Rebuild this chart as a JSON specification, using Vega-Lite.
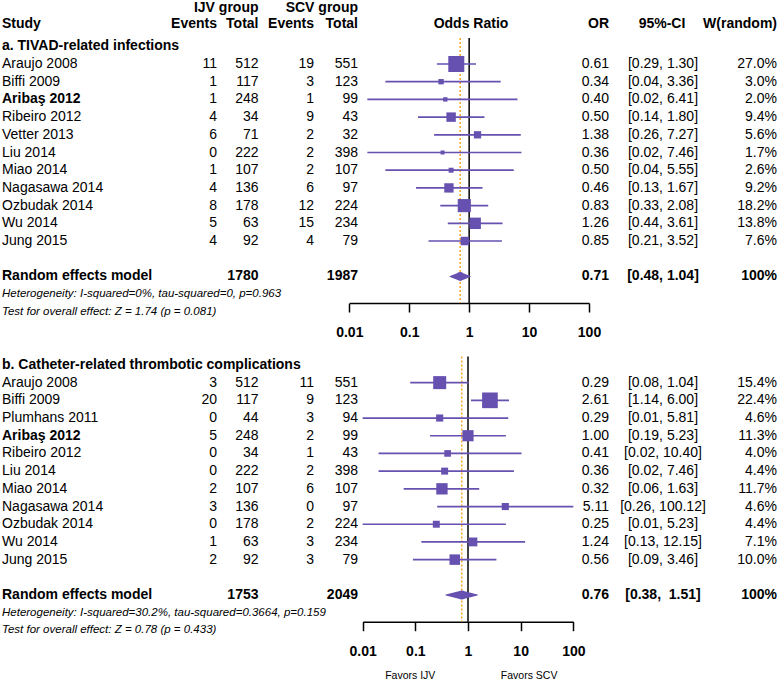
{
  "$schema": "https://vega.github.io/schema/vega-lite/v6.json",
  "width": 779,
  "height": 680,
  "padding": 0,
  "autosize": {"type": "none"},
  "background": "white",
  "config": {
    "view": {"stroke": null},
    "text": {"font": "Liberation Sans", "fontSize": 14, "baseline": "middle", "color": "black"}
  },
  "datasets": {
    "studies": [
      {"sec": "a", "row": 1, "study": "Araujo 2008", "bold": false, "e1": "11", "t1": "512", "e2": "19", "t2": "551", "or": 0.61, "lo": 0.29, "hi": 1.30, "w": 27.0, "ci": "[0.29, 1.30]", "wt": "27.0%"},
      {"sec": "a", "row": 2, "study": "Biffi 2009", "bold": false, "e1": "1", "t1": "117", "e2": "3", "t2": "123", "or": 0.34, "lo": 0.04, "hi": 3.36, "w": 3.0, "ci": "[0.04, 3.36]", "wt": "3.0%"},
      {"sec": "a", "row": 3, "study": "Aribaş 2012", "bold": true, "e1": "1", "t1": "248", "e2": "1", "t2": "99", "or": 0.40, "lo": 0.02, "hi": 6.41, "w": 2.0, "ci": "[0.02, 6.41]", "wt": "2.0%"},
      {"sec": "a", "row": 4, "study": "Ribeiro 2012", "bold": false, "e1": "4", "t1": "34", "e2": "9", "t2": "43", "or": 0.50, "lo": 0.14, "hi": 1.80, "w": 9.4, "ci": "[0.14, 1.80]", "wt": "9.4%"},
      {"sec": "a", "row": 5, "study": "Vetter 2013", "bold": false, "e1": "6", "t1": "71", "e2": "2", "t2": "32", "or": 1.38, "lo": 0.26, "hi": 7.27, "w": 5.6, "ci": "[0.26, 7.27]", "wt": "5.6%"},
      {"sec": "a", "row": 6, "study": "Liu 2014", "bold": false, "e1": "0", "t1": "222", "e2": "2", "t2": "398", "or": 0.36, "lo": 0.02, "hi": 7.46, "w": 1.7, "ci": "[0.02, 7.46]", "wt": "1.7%"},
      {"sec": "a", "row": 7, "study": "Miao 2014", "bold": false, "e1": "1", "t1": "107", "e2": "2", "t2": "107", "or": 0.50, "lo": 0.04, "hi": 5.55, "w": 2.6, "ci": "[0.04, 5.55]", "wt": "2.6%"},
      {"sec": "a", "row": 8, "study": "Nagasawa 2014", "bold": false, "e1": "4", "t1": "136", "e2": "6", "t2": "97", "or": 0.46, "lo": 0.13, "hi": 1.67, "w": 9.2, "ci": "[0.13, 1.67]", "wt": "9.2%"},
      {"sec": "a", "row": 9, "study": "Ozbudak 2014", "bold": false, "e1": "8", "t1": "178", "e2": "12", "t2": "224", "or": 0.83, "lo": 0.33, "hi": 2.08, "w": 18.2, "ci": "[0.33, 2.08]", "wt": "18.2%"},
      {"sec": "a", "row": 10, "study": "Wu 2014", "bold": false, "e1": "5", "t1": "63", "e2": "15", "t2": "234", "or": 1.26, "lo": 0.44, "hi": 3.61, "w": 13.8, "ci": "[0.44, 3.61]", "wt": "13.8%"},
      {"sec": "a", "row": 11, "study": "Jung 2015", "bold": false, "e1": "4", "t1": "92", "e2": "4", "t2": "79", "or": 0.85, "lo": 0.21, "hi": 3.52, "w": 7.6, "ci": "[0.21, 3.52]", "wt": "7.6%"},
      {"sec": "b", "row": 19, "study": "Araujo 2008", "bold": false, "e1": "3", "t1": "512", "e2": "11", "t2": "551", "or": 0.29, "lo": 0.08, "hi": 1.04, "w": 15.4, "ci": "[0.08, 1.04]", "wt": "15.4%"},
      {"sec": "b", "row": 20, "study": "Biffi 2009", "bold": false, "e1": "20", "t1": "117", "e2": "9", "t2": "123", "or": 2.61, "lo": 1.14, "hi": 6.00, "w": 22.4, "ci": "[1.14, 6.00]", "wt": "22.4%"},
      {"sec": "b", "row": 21, "study": "Plumhans 2011", "bold": false, "e1": "0", "t1": "44", "e2": "3", "t2": "94", "or": 0.29, "lo": 0.01, "hi": 5.81, "w": 4.6, "ci": "[0.01, 5.81]", "wt": "4.6%"},
      {"sec": "b", "row": 22, "study": "Aribaş 2012", "bold": true, "e1": "5", "t1": "248", "e2": "2", "t2": "99", "or": 1.00, "lo": 0.19, "hi": 5.23, "w": 11.3, "ci": "[0.19, 5.23]", "wt": "11.3%"},
      {"sec": "b", "row": 23, "study": "Ribeiro 2012", "bold": false, "e1": "0", "t1": "34", "e2": "1", "t2": "43", "or": 0.41, "lo": 0.02, "hi": 10.40, "w": 4.0, "ci": "[0.02, 10.40]", "wt": "4.0%"},
      {"sec": "b", "row": 24, "study": "Liu 2014", "bold": false, "e1": "0", "t1": "222", "e2": "2", "t2": "398", "or": 0.36, "lo": 0.02, "hi": 7.46, "w": 4.4, "ci": "[0.02, 7.46]", "wt": "4.4%"},
      {"sec": "b", "row": 25, "study": "Miao 2014", "bold": false, "e1": "2", "t1": "107", "e2": "6", "t2": "107", "or": 0.32, "lo": 0.06, "hi": 1.63, "w": 11.7, "ci": "[0.06, 1.63]", "wt": "11.7%"},
      {"sec": "b", "row": 26, "study": "Nagasawa 2014", "bold": false, "e1": "3", "t1": "136", "e2": "0", "t2": "97", "or": 5.11, "lo": 0.26, "hi": 100.12, "w": 4.6, "ci": "[0.26, 100.12]", "wt": "4.6%"},
      {"sec": "b", "row": 27, "study": "Ozbudak 2014", "bold": false, "e1": "0", "t1": "178", "e2": "2", "t2": "224", "or": 0.25, "lo": 0.01, "hi": 5.23, "w": 4.4, "ci": "[0.01, 5.23]", "wt": "4.4%"},
      {"sec": "b", "row": 28, "study": "Wu 2014", "bold": false, "e1": "1", "t1": "63", "e2": "3", "t2": "234", "or": 1.24, "lo": 0.13, "hi": 12.15, "w": 7.1, "ci": "[0.13, 12.15]", "wt": "7.1%"},
      {"sec": "b", "row": 29, "study": "Jung 2015", "bold": false, "e1": "2", "t1": "92", "e2": "3", "t2": "79", "or": 0.56, "lo": 0.09, "hi": 3.46, "w": 10.0, "ci": "[0.09, 3.46]", "wt": "10.0%"}
    ],
    "pooled": [
      {"sec": "a", "row": 13, "label": "Random effects model", "t1": "1780", "t2": "1987", "or": 0.71, "lo": 0.48, "hi": 1.04, "ci": "[0.48, 1.04]", "wt": "100%"},
      {"sec": "b", "row": 31, "label": "Random effects model", "t1": "1753", "t2": "2049", "or": 0.76, "lo": 0.38, "hi": 1.51, "ci": "[0.38,\u00a0 1.51]", "wt": "100%"}
    ],
    "notes": [
      {"row": 0, "kind": "title", "text": "a. TIVAD-related infections"},
      {"row": 14, "kind": "stat", "text": "Heterogeneity: I-squared=0%, tau-squared=0, p=0.963"},
      {"row": 15, "kind": "stat", "text": "Test for overall effect: Z = 1.74 (p = 0.081)"},
      {"row": 18, "kind": "title", "text": "b. Catheter-related thrombotic complications"},
      {"row": 32, "kind": "stat", "text": "Heterogeneity: I-squared=30.2%, tau-squared=0.3664, p=0.159"},
      {"row": 33, "kind": "stat", "text": "Test for overall effect: Z = 0.78 (p = 0.433)"}
    ],
    "header": [
      {"row": -1, "col": "study", "text": "Study"},
      {"row": -2, "col": "g1", "text": "IJV group"},
      {"row": -1, "col": "e1", "text": "Events"},
      {"row": -1, "col": "t1", "text": "Total"},
      {"row": -2, "col": "g2", "text": "SCV group"},
      {"row": -1, "col": "e2", "text": "Events"},
      {"row": -1, "col": "t2", "text": "Total"},
      {"row": -1, "col": "plot", "text": "Odds Ratio"},
      {"row": -1, "col": "or", "text": "OR"},
      {"row": -1, "col": "ci", "text": "95%-CI"},
      {"row": -1, "col": "w", "text": "W(random)"}
    ]
  },
  "encoding": {
    "y": {"field": "row", "type": "quantitative", "scale": {"domain": [-2.616, 35.8], "reverse": true, "nice": false, "zero": false}, "axis": null}
  },
  "layer": [
    {
      "layer": [
        {"data": {"name": "header"}, "transform": [{"filter": "datum.col == 'study'"}], "mark": {"type": "text", "align": "left", "fontWeight": "bold", "dy": -5}, "encoding": {"x": {"datum": 2, "type": "quantitative", "scale": {"domain": [0, 779], "nice": false, "zero": false}, "axis": null}, "text": {"field": "text"}}},
        {"data": {"name": "header"}, "transform": [{"filter": "datum.col == 'g1'"}], "mark": {"type": "text", "align": "right", "fontWeight": "bold", "dy": -2.5}, "encoding": {"x": {"datum": 258.5, "type": "quantitative", "scale": {"domain": [0, 779], "nice": false, "zero": false}, "axis": null}, "text": {"field": "text"}}},
        {"data": {"name": "header"}, "transform": [{"filter": "datum.col == 'g2'"}], "mark": {"type": "text", "align": "right", "fontWeight": "bold", "dy": -2.5}, "encoding": {"x": {"datum": 358, "type": "quantitative", "scale": {"domain": [0, 779], "nice": false, "zero": false}, "axis": null}, "text": {"field": "text"}}},
        {"data": {"name": "header"}, "transform": [{"filter": "datum.col == 'e1'"}], "mark": {"type": "text", "align": "right", "fontWeight": "bold", "dy": -5}, "encoding": {"x": {"datum": 217, "type": "quantitative", "scale": {"domain": [0, 779], "nice": false, "zero": false}, "axis": null}, "text": {"field": "text"}}},
        {"data": {"name": "header"}, "transform": [{"filter": "datum.col == 't1'"}], "mark": {"type": "text", "align": "right", "fontWeight": "bold", "dy": -5}, "encoding": {"x": {"datum": 258.5, "type": "quantitative", "scale": {"domain": [0, 779], "nice": false, "zero": false}, "axis": null}, "text": {"field": "text"}}},
        {"data": {"name": "header"}, "transform": [{"filter": "datum.col == 'e2'"}], "mark": {"type": "text", "align": "right", "fontWeight": "bold", "dy": -5}, "encoding": {"x": {"datum": 314, "type": "quantitative", "scale": {"domain": [0, 779], "nice": false, "zero": false}, "axis": null}, "text": {"field": "text"}}},
        {"data": {"name": "header"}, "transform": [{"filter": "datum.col == 't2'"}], "mark": {"type": "text", "align": "right", "fontWeight": "bold", "dy": -5}, "encoding": {"x": {"datum": 358, "type": "quantitative", "scale": {"domain": [0, 779], "nice": false, "zero": false}, "axis": null}, "text": {"field": "text"}}},
        {"data": {"name": "header"}, "transform": [{"filter": "datum.col == 'plot'"}], "mark": {"type": "text", "align": "center", "fontWeight": "bold", "dy": -5}, "encoding": {"x": {"datum": 471, "type": "quantitative", "scale": {"domain": [0, 779], "nice": false, "zero": false}, "axis": null}, "text": {"field": "text"}}},
        {"data": {"name": "header"}, "transform": [{"filter": "datum.col == 'or'"}], "mark": {"type": "text", "align": "right", "fontWeight": "bold", "dy": -5}, "encoding": {"x": {"datum": 609, "type": "quantitative", "scale": {"domain": [0, 779], "nice": false, "zero": false}, "axis": null}, "text": {"field": "text"}}},
        {"data": {"name": "header"}, "transform": [{"filter": "datum.col == 'ci'"}], "mark": {"type": "text", "align": "center", "fontWeight": "bold", "dy": -5}, "encoding": {"x": {"datum": 662, "type": "quantitative", "scale": {"domain": [0, 779], "nice": false, "zero": false}, "axis": null}, "text": {"field": "text"}}},
        {"data": {"name": "header"}, "transform": [{"filter": "datum.col == 'w'"}], "mark": {"type": "text", "align": "right", "fontWeight": "bold", "dy": -5}, "encoding": {"x": {"datum": 777, "type": "quantitative", "scale": {"domain": [0, 779], "nice": false, "zero": false}, "axis": null}, "text": {"field": "text"}}},

        {"data": {"name": "notes"}, "transform": [{"filter": "datum.kind == 'title'"}], "mark": {"type": "text", "align": "left", "fontWeight": "bold"}, "encoding": {"x": {"datum": 2, "type": "quantitative", "scale": {"domain": [0, 779], "nice": false, "zero": false}, "axis": null}, "text": {"field": "text"}}},
        {"data": {"name": "notes"}, "transform": [{"filter": "datum.kind == 'stat'"}], "mark": {"type": "text", "align": "left", "fontStyle": "italic", "fontSize": 11.5}, "encoding": {"x": {"datum": 2, "type": "quantitative", "scale": {"domain": [0, 779], "nice": false, "zero": false}, "axis": null}, "text": {"field": "text"}}},

        {"data": {"name": "studies"}, "transform": [{"filter": "!datum.bold"}], "mark": {"type": "text", "align": "left"}, "encoding": {"x": {"datum": 2, "type": "quantitative", "scale": {"domain": [0, 779], "nice": false, "zero": false}, "axis": null}, "text": {"field": "study"}}},
        {"data": {"name": "studies"}, "transform": [{"filter": "datum.bold"}], "mark": {"type": "text", "align": "left", "fontWeight": "bold"}, "encoding": {"x": {"datum": 2, "type": "quantitative", "scale": {"domain": [0, 779], "nice": false, "zero": false}, "axis": null}, "text": {"field": "study"}}},
        {"data": {"name": "studies"}, "mark": {"type": "text", "align": "right"}, "encoding": {"x": {"datum": 217, "type": "quantitative", "scale": {"domain": [0, 779], "nice": false, "zero": false}, "axis": null}, "text": {"field": "e1"}}},
        {"data": {"name": "studies"}, "mark": {"type": "text", "align": "right"}, "encoding": {"x": {"datum": 258.5, "type": "quantitative", "scale": {"domain": [0, 779], "nice": false, "zero": false}, "axis": null}, "text": {"field": "t1"}}},
        {"data": {"name": "studies"}, "mark": {"type": "text", "align": "right"}, "encoding": {"x": {"datum": 314, "type": "quantitative", "scale": {"domain": [0, 779], "nice": false, "zero": false}, "axis": null}, "text": {"field": "e2"}}},
        {"data": {"name": "studies"}, "mark": {"type": "text", "align": "right"}, "encoding": {"x": {"datum": 358, "type": "quantitative", "scale": {"domain": [0, 779], "nice": false, "zero": false}, "axis": null}, "text": {"field": "t2"}}},
        {"data": {"name": "studies"}, "mark": {"type": "text", "align": "right"}, "encoding": {"x": {"datum": 609, "type": "quantitative", "scale": {"domain": [0, 779], "nice": false, "zero": false}, "axis": null}, "text": {"field": "or", "type": "quantitative", "format": ".2f"}}},
        {"data": {"name": "studies"}, "mark": {"type": "text", "align": "center"}, "encoding": {"x": {"datum": 663, "type": "quantitative", "scale": {"domain": [0, 779], "nice": false, "zero": false}, "axis": null}, "text": {"field": "ci"}}},
        {"data": {"name": "studies"}, "mark": {"type": "text", "align": "right"}, "encoding": {"x": {"datum": 777, "type": "quantitative", "scale": {"domain": [0, 779], "nice": false, "zero": false}, "axis": null}, "text": {"field": "wt"}}},

        {"data": {"name": "pooled"}, "mark": {"type": "text", "align": "left", "fontWeight": "bold"}, "encoding": {"x": {"datum": 2, "type": "quantitative", "scale": {"domain": [0, 779], "nice": false, "zero": false}, "axis": null}, "text": {"field": "label"}}},
        {"data": {"name": "pooled"}, "mark": {"type": "text", "align": "right", "fontWeight": "bold"}, "encoding": {"x": {"datum": 258.5, "type": "quantitative", "scale": {"domain": [0, 779], "nice": false, "zero": false}, "axis": null}, "text": {"field": "t1"}}},
        {"data": {"name": "pooled"}, "mark": {"type": "text", "align": "right", "fontWeight": "bold"}, "encoding": {"x": {"datum": 358, "type": "quantitative", "scale": {"domain": [0, 779], "nice": false, "zero": false}, "axis": null}, "text": {"field": "t2"}}},
        {"data": {"name": "pooled"}, "mark": {"type": "text", "align": "right", "fontWeight": "bold"}, "encoding": {"x": {"datum": 609, "type": "quantitative", "scale": {"domain": [0, 779], "nice": false, "zero": false}, "axis": null}, "text": {"field": "or", "type": "quantitative", "format": ".2f"}}},
        {"data": {"name": "pooled"}, "mark": {"type": "text", "align": "center", "fontWeight": "bold"}, "encoding": {"x": {"datum": 663, "type": "quantitative", "scale": {"domain": [0, 779], "nice": false, "zero": false}, "axis": null}, "text": {"field": "ci"}}},
        {"data": {"name": "pooled"}, "mark": {"type": "text", "align": "right", "fontWeight": "bold"}, "encoding": {"x": {"datum": 777, "type": "quantitative", "scale": {"domain": [0, 779], "nice": false, "zero": false}, "axis": null}, "text": {"field": "wt"}}}
      ]
    },
    {
      "layer": [
        {"data": {"name": "pooled"}, "transform": [{"filter": "datum.sec == 'a'"}], "mark": {"type": "rule", "color": "black", "strokeWidth": 1.5}, "encoding": {"x": {"datum": 1, "type": "quantitative", "scale": {"type": "log", "domain": [0.01, 100], "range": [349.3, 589], "nice": false}, "axis": {"orient": "bottom", "offset": -377, "values": [0.01, 0.1, 1, 10, 100], "format": "~g", "title": null, "grid": false, "domainColor": "black", "domainWidth": 1.5, "tickColor": "black", "tickWidth": 1.5, "tickSize": 9, "labelFont": "Liberation Sans", "labelFontSize": 14, "labelFontWeight": "bold", "labelColor": "black", "labelPadding": 13.5, "labelFlush": false, "labelOverlap": false}}, "y": {"datum": -0.47}, "y2": {"datum": 14.5}}},
        {"data": {"name": "pooled"}, "transform": [{"filter": "datum.sec == 'a'"}], "mark": {"type": "rule", "color": "#f5a623", "strokeWidth": 1.5, "strokeDash": [2, 2]}, "encoding": {"x": {"field": "or", "type": "quantitative"}, "y": {"datum": -0.47}, "y2": {"datum": 14.5}}},
        {"data": {"name": "studies"}, "transform": [{"filter": "datum.sec == 'a'"}], "mark": {"type": "rule", "color": "#6650b0", "strokeWidth": 1.7}, "encoding": {"x": {"field": "lo", "type": "quantitative"}, "x2": {"field": "hi"}}},
        {"data": {"name": "studies"}, "transform": [{"filter": "datum.sec == 'a'"}], "mark": {"type": "point", "shape": "square", "filled": true, "opacity": 1, "color": "#6650b0", "strokeWidth": 0}, "encoding": {"x": {"field": "or", "type": "quantitative"}, "size": {"field": "w", "type": "quantitative", "scale": {"domain": [0, 27], "range": [0, 256]}, "legend": null}}},
        {"data": {"name": "pooled"}, "transform": [{"filter": "datum.sec == 'a'"}, {"fold": ["lo", "or", "hi"], "as": ["k", "v"]}], "mark": {"type": "trail", "color": "#6650b0"}, "encoding": {"x": {"field": "v", "type": "quantitative"}, "order": {"field": "v", "type": "quantitative"}, "size": {"condition": {"test": "datum.k == 'or'", "value": 9}, "value": 0}}}
      ]
    },
    {
      "layer": [
        {"data": {"name": "pooled"}, "transform": [{"filter": "datum.sec == 'b'"}], "mark": {"type": "rule", "color": "black", "strokeWidth": 1.5}, "encoding": {"x": {"datum": 1, "type": "quantitative", "scale": {"type": "log", "domain": [0.01, 100], "range": [362.7, 573.3], "nice": false}, "axis": {"orient": "bottom", "offset": -58.3, "values": [0.01, 0.1, 1, 10, 100], "format": "~g", "title": null, "grid": false, "domainColor": "black", "domainWidth": 1.5, "tickColor": "black", "tickWidth": 1.5, "tickSize": 9, "labelFont": "Liberation Sans", "labelFontSize": 14, "labelFontWeight": "bold", "labelColor": "black", "labelPadding": 13.5, "labelFlush": false, "labelOverlap": false}}, "y": {"datum": 17.53}, "y2": {"datum": 32.51}}},
        {"data": {"name": "pooled"}, "transform": [{"filter": "datum.sec == 'b'"}], "mark": {"type": "rule", "color": "#f5a623", "strokeWidth": 1.5, "strokeDash": [2, 2]}, "encoding": {"x": {"field": "or", "type": "quantitative"}, "y": {"datum": 17.53}, "y2": {"datum": 32.51}}},
        {"data": {"name": "studies"}, "transform": [{"filter": "datum.sec == 'b'"}], "mark": {"type": "rule", "color": "#6650b0", "strokeWidth": 1.7}, "encoding": {"x": {"field": "lo", "type": "quantitative"}, "x2": {"field": "hi"}}},
        {"data": {"name": "studies"}, "transform": [{"filter": "datum.sec == 'b'"}], "mark": {"type": "point", "shape": "square", "filled": true, "opacity": 1, "color": "#6650b0", "strokeWidth": 0}, "encoding": {"x": {"field": "or", "type": "quantitative"}, "size": {"field": "w", "type": "quantitative", "scale": {"domain": [0, 22.4], "range": [0, 246]}, "legend": null}}},
        {"data": {"name": "pooled"}, "transform": [{"filter": "datum.sec == 'b'"}, {"fold": ["lo", "or", "hi"], "as": ["k", "v"]}], "mark": {"type": "trail", "color": "#6650b0"}, "encoding": {"x": {"field": "v", "type": "quantitative"}, "order": {"field": "v", "type": "quantitative"}, "size": {"condition": {"test": "datum.k == 'or'", "value": 9}, "value": 0}}},
        {"data": {"values": [{"row": 35, "side": "Favors IJV", "at": 0.08}, {"row": 35, "side": "Favors SCV", "at": 14.5}]}, "mark": {"type": "text", "align": "center", "fontSize": 10.5, "dy": 10}, "encoding": {"x": {"field": "at", "type": "quantitative"}, "text": {"field": "side"}}}
      ]
    }
  ],
  "resolve": {"scale": {"x": "independent", "size": "independent"}, "axis": {"x": "independent"}}
}
